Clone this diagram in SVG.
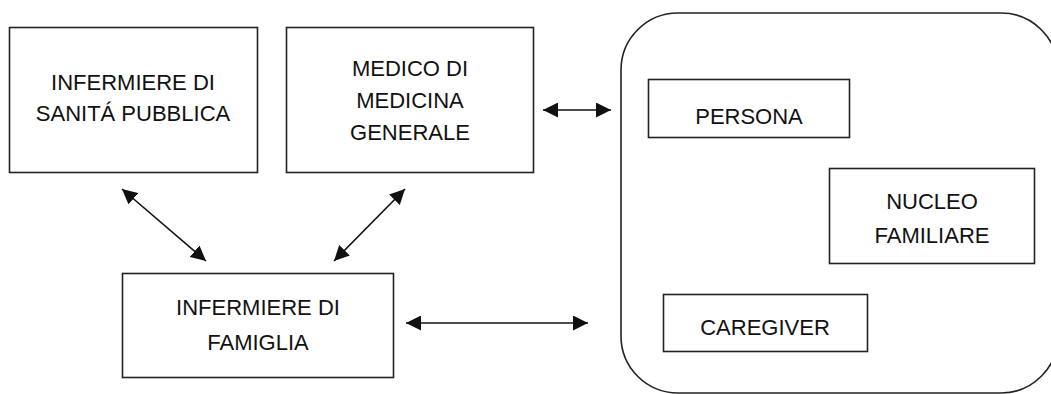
<svg xmlns="http://www.w3.org/2000/svg" width="1051" height="394" viewBox="0 0 1051 394">
<style>
.box{fill:#fff;stroke:#222;stroke-width:1.6}
.cont{fill:none;stroke:#222;stroke-width:1.6}
.t{font-family:"Liberation Sans",Arial,sans-serif;font-size:22px;fill:#111;text-anchor:middle}
.c{stroke:#111;stroke-width:1.6;fill:none;marker-start:url(#ah);marker-end:url(#ah)}
</style>
<defs>
<marker id="ah" markerUnits="userSpaceOnUse" markerWidth="16" markerHeight="15" refX="15" refY="7.5" orient="auto-start-reverse">
<path d="M0,0 L15,7.5 L0,15 z" fill="#111"/>
</marker>
</defs>
<rect width="1051" height="394" fill="#fff"/>
<g id="famiglia-gruppo">
<rect class="cont" x="621" y="13" width="437" height="380" rx="57"/>
</g>
<g id="isp">
<rect class="box" x="9.5" y="27.5" width="248" height="145"/>
<text class="t" x="133" y="90">INFERMIERE DI</text>
<text class="t" x="133" y="121">SANITÁ PUBBLICA</text>
</g>
<g id="mmg">
<rect class="box" x="286.5" y="27.5" width="247" height="145"/>
<text class="t" x="410" y="76">MEDICO DI</text>
<text class="t" x="410" y="108">MEDICINA</text>
<text class="t" x="410" y="140">GENERALE</text>
</g>
<g id="idf">
<rect class="box" x="122.5" y="273.5" width="271" height="104"/>
<text class="t" x="258" y="315">INFERMIERE DI</text>
<text class="t" x="258" y="350">FAMIGLIA</text>
</g>
<g id="persona">
<rect class="box" x="648.5" y="79.5" width="201" height="58"/>
<text class="t" x="749" y="124">PERSONA</text>
</g>
<g id="nucleo">
<rect class="box" x="829.5" y="168.5" width="205" height="95"/>
<text class="t" x="932" y="209">NUCLEO</text>
<text class="t" x="932" y="243">FAMILIARE</text>
</g>
<g id="caregiver">
<rect class="box" x="663.5" y="294.5" width="204" height="57"/>
<text class="t" x="765" y="335">CAREGIVER</text>
</g>
<g id="connectors">
<line class="c" x1="122" y1="189" x2="206" y2="261"/>
<line class="c" x1="405" y1="189" x2="334" y2="261"/>
<line class="c" x1="406" y1="323" x2="588" y2="323"/>
<line class="c" x1="543" y1="110" x2="611" y2="110"/>
</g>
</svg>
